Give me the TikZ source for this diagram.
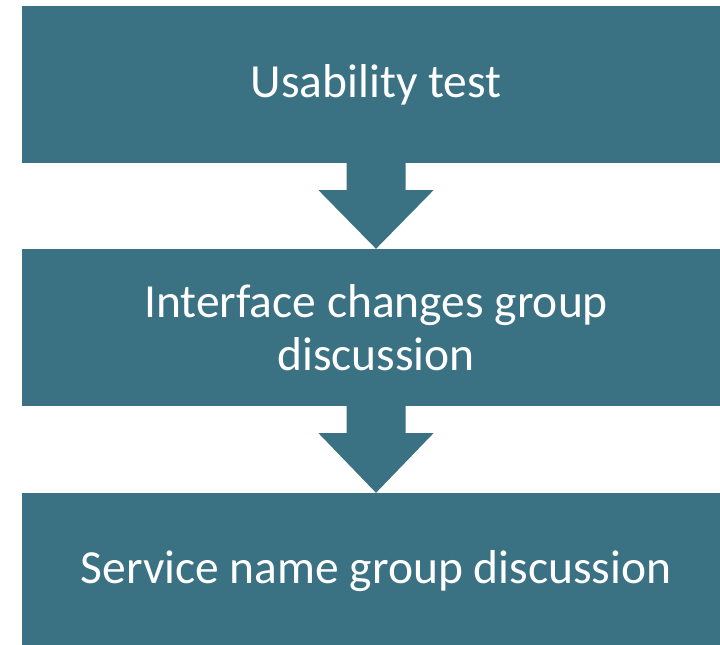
\documentclass[tikz,border=0pt]{standalone}
\usepackage{fontspec}
\setmainfont{Carlito}
\usetikzlibrary{calc}
\definecolor{boxcol}{RGB}{59,114,131}
\tikzset{
  stepbox/.style={fill=boxcol, draw=none, minimum width=708pt, minimum height=157pt, inner sep=0pt,
    text=white, align=center, font=\fontsize{47.5}{53}\selectfont},
  blockarrow/.style={fill=boxcol, draw=none}
}
\begin{document}
\begin{tikzpicture}[x=1pt,y=1pt]
\useasboundingbox (0,0) rectangle (720,645);
\clip (0,0) rectangle (720,645);
\node[stepbox] (b1) at (376,560.5) {Usability test};
\node[stepbox] (b2) at (376,317.5) {Interface changes group\\discussion};
\node[stepbox] (b3) at (376,73.5) {Service name group discussion};
\foreach \a/\b in {b1/b2, b2/b3}{
  \fill[blockarrow] ($(\a.south)+(-29.5,0.5)$) -- ($(\a.south)+(29.5,0.5)$) -- ($(\a.south)+(29.5,-27)$)
    -- ($(\a.south)+(57.5,-27)$) -- (\b.north) -- ($(\a.south)+(-57.5,-27)$) -- ($(\a.south)+(-29.5,-27)$) -- cycle;
}
\end{tikzpicture}
\end{document}
